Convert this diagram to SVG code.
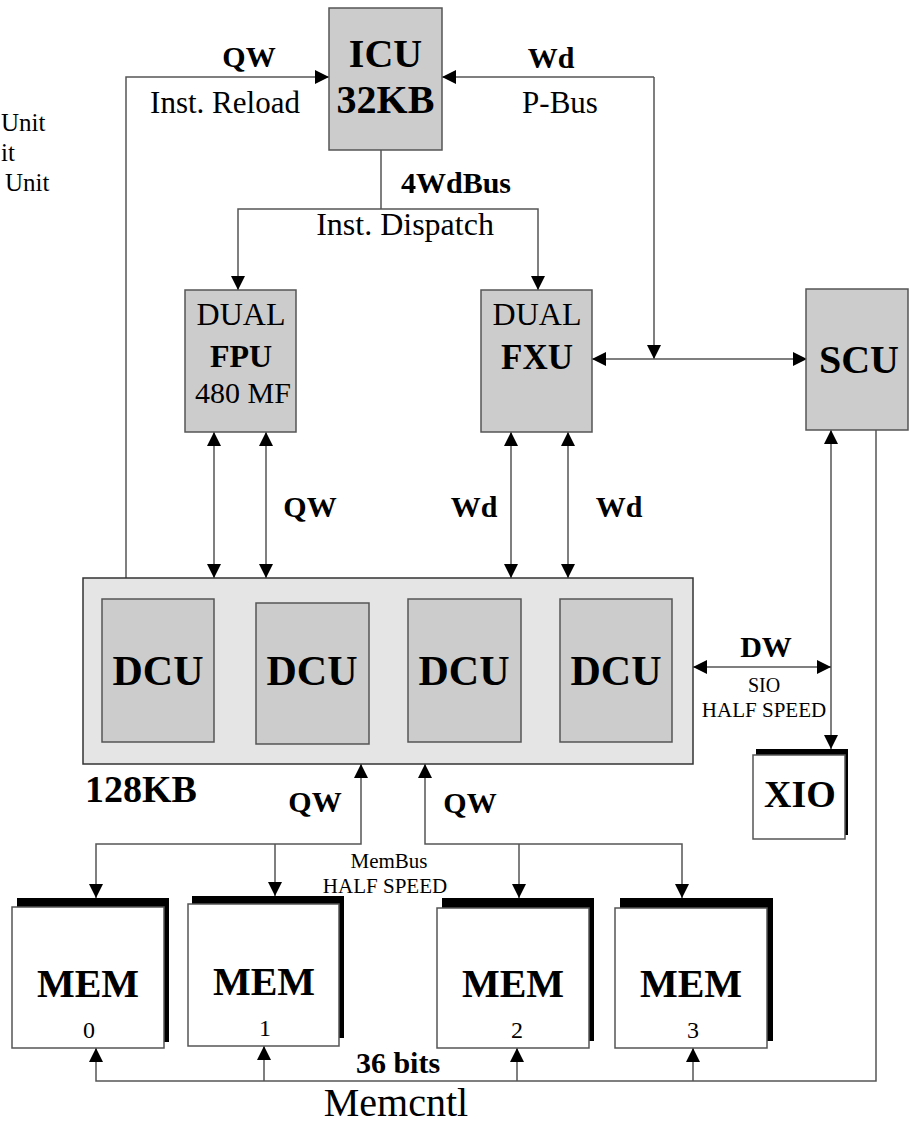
<svg xmlns="http://www.w3.org/2000/svg" width="910" height="1124" viewBox="0 0 910 1124">
<defs>
<marker id="ah" viewBox="0 0 14 14" refX="14" refY="7" markerWidth="14" markerHeight="14" markerUnits="userSpaceOnUse" orient="auto-start-reverse">
<path d="M0,0 L14,7 L0,14 z" fill="#000"/>
</marker>
<style>
text{font-family:"Liberation Serif","Times New Roman",serif;fill:#000}
.b{font-weight:bold}
.m{text-anchor:middle}
.node{fill:#cccccc;stroke:#555;stroke-width:1.5}
.cont{fill:#e5e5e5;stroke:#333;stroke-width:1.5}
.front{fill:#fff;stroke:#555;stroke-width:1.5}
.shadow{fill:#000}
.c{fill:none;stroke:#555;stroke-width:1.5}
.e{marker-end:url(#ah)}
.se{marker-start:url(#ah);marker-end:url(#ah)}
</style>
</defs>
<rect width="910" height="1124" fill="#fff"/>

<g id="legend">
<text x="1" y="131" font-size="25">Unit</text>
<text x="1" y="161" font-size="25">it</text>
<text x="5" y="191" font-size="25">Unit</text>
</g>

<g id="connectors">
<path class="c e" d="M126,578 V77 H329"/>
<path class="c e" d="M654,77 H442"/>
<path class="c e" d="M654,77 V359"/>
<path class="c se" d="M592,359 H807"/>
<path class="c" d="M381,150 V209"/>
<path class="c se" d="M238,290 V209 H538 V290"/>
<path class="c se" d="M214,432 V578"/>
<path class="c se" d="M266,432 V578"/>
<path class="c se" d="M511,432 V578"/>
<path class="c se" d="M568,432 V578"/>
<path class="c se" d="M831,430 V749"/>
<path class="c se" d="M693,667 H831"/>
<path class="c se" d="M361,764 V844 H96 V898"/>
<path class="c e" d="M275,844 V896"/>
<path class="c se" d="M425,764 V844 H682 V898"/>
<path class="c e" d="M519,844 V898"/>
<path class="c e" d="M876,430 V1081 H96 V1048"/>
<path class="c e" d="M264,1081 V1046"/>
<path class="c e" d="M517,1081 V1048"/>
<path class="c e" d="M693,1081 V1048"/>
</g>

<g id="labels">
<text class="b m" x="249" y="67" font-size="30">QW</text>
<text class="m" x="225" y="113" font-size="31">Inst. Reload</text>
<text class="b m" x="551" y="68" font-size="30">Wd</text>
<text class="m" x="560" y="113" font-size="31">P-Bus</text>
<text class="b m" x="456" y="193" font-size="30">4WdBus</text>
<text class="m" x="405" y="235" font-size="32">Inst. Dispatch</text>
<text class="b m" x="310" y="517" font-size="30">QW</text>
<text class="b m" x="474" y="517" font-size="30">Wd</text>
<text class="b m" x="619" y="517" font-size="30">Wd</text>
<text class="b m" x="766" y="657" font-size="30">DW</text>
<text class="m" x="764" y="692" font-size="20">SIO</text>
<text class="m" x="764" y="717" font-size="21">HALF SPEED</text>
<text class="b" x="85" y="802" font-size="38">128KB</text>
<text class="b m" x="315" y="812" font-size="30">QW</text>
<text class="b m" x="470" y="813" font-size="30">QW</text>
<text class="m" x="389" y="868" font-size="21">MemBus</text>
<text class="m" x="385" y="893" font-size="21">HALF SPEED</text>
<text class="b m" x="398" y="1073" font-size="30">36 bits</text>
<text class="m" x="396" y="1116" font-size="40">Memcntl</text>
</g>

<g id="icu">
<rect class="node" x="329" y="8" width="113" height="142"/>
<text class="b m" x="385.5" y="67" font-size="40">ICU</text>
<text class="b m" x="385.5" y="113" font-size="40">32KB</text>
</g>

<g id="fpu">
<rect class="node" x="185" y="290" width="111" height="142"/>
<text class="m" x="241" y="325" font-size="32">DUAL</text>
<text class="b m" x="241" y="367" font-size="32">FPU</text>
<text class="m" x="243" y="403" font-size="30">480 MF</text>
</g>

<g id="fxu">
<rect class="node" x="481" y="290" width="111" height="142"/>
<text class="m" x="537" y="325" font-size="32">DUAL</text>
<text class="b m" x="537" y="369" font-size="35">FXU</text>
</g>

<g id="scu">
<rect class="node" x="806" y="289" width="102" height="141"/>
<text class="b m" x="859" y="373" font-size="40">SCU</text>
</g>

<g id="dcache">
<rect class="cont" x="83" y="578" width="610" height="186"/>
</g>
<g id="dcu0">
<rect class="node" x="102" y="599" width="112" height="143"/>
<text class="b m" x="158" y="685" font-size="42">DCU</text>
</g>
<g id="dcu1">
<rect class="node" x="256" y="603" width="113" height="141"/>
<text class="b m" x="312" y="685" font-size="42">DCU</text>
</g>
<g id="dcu2">
<rect class="node" x="408" y="599" width="113" height="143"/>
<text class="b m" x="464" y="685" font-size="42">DCU</text>
</g>
<g id="dcu3">
<rect class="node" x="560" y="599" width="112" height="143"/>
<text class="b m" x="616" y="685" font-size="42">DCU</text>
</g>

<g id="xio">
<rect class="shadow" x="756" y="749" width="92" height="86"/>
<rect class="front" x="753" y="755" width="92" height="84"/>
<text class="b m" x="800" y="807" font-size="38">XIO</text>
</g>

<g id="mem0">
<rect class="shadow" x="17" y="898" width="152" height="144"/>
<rect class="front" x="12" y="907" width="152" height="141"/>
<text class="b m" x="88" y="997" font-size="40">MEM</text>
<text class="m" x="89" y="1038" font-size="24">0</text>
</g>
<g id="mem1">
<rect class="shadow" x="192" y="896" width="152" height="142"/>
<rect class="front" x="188" y="904" width="151" height="142"/>
<text class="b m" x="264" y="995" font-size="40">MEM</text>
<text class="m" x="265" y="1036" font-size="24">1</text>
</g>
<g id="mem2">
<rect class="shadow" x="442" y="898" width="152" height="143"/>
<rect class="front" x="437" y="908" width="152" height="140"/>
<text class="b m" x="513" y="997" font-size="40">MEM</text>
<text class="m" x="517" y="1038" font-size="24">2</text>
</g>
<g id="mem3">
<rect class="shadow" x="620" y="898" width="153" height="143"/>
<rect class="front" x="615" y="908" width="152" height="140"/>
<text class="b m" x="691" y="997" font-size="40">MEM</text>
<text class="m" x="693" y="1038" font-size="24">3</text>
</g>
</svg>
